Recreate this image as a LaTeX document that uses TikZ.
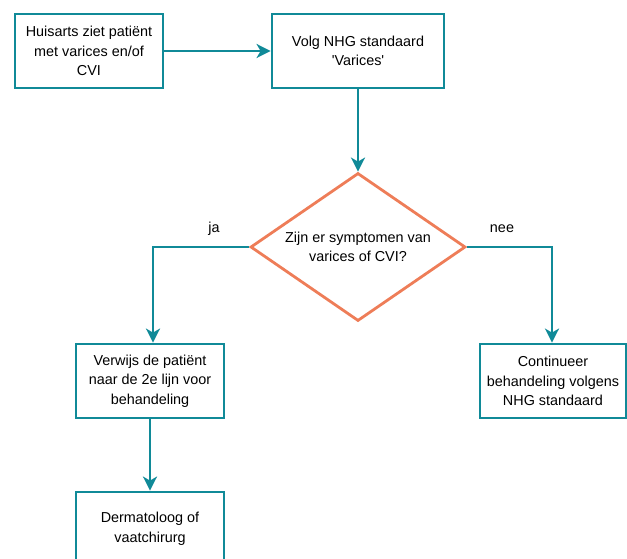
\documentclass[tikz,border=0pt]{standalone}
\usepackage{fontspec}
\setmainfont{Liberation Sans}
\usetikzlibrary{shapes.geometric,arrows.meta}
\definecolor{teal}{RGB}{16,138,152}
\definecolor{koraal}{RGB}{238,125,88}
\begin{document}
\begin{tikzpicture}[x=1pt, y=-1pt, line width=2.8pt,
    font=\fontsize{14.4}{19.5}\selectfont,
    box/.style={draw=teal, line width=2.8pt, align=center, minimum width=148pt, minimum height=74pt, inner sep=0pt},
    keuze/.style={draw=koraal, shape=diamond, aspect=1.45, align=center, minimum width=215pt, minimum height=148pt, inner sep=0pt},
    pijl/.style={draw=teal, -{Stealth[length=14pt,width=14pt,inset=4pt]}}]
    \useasboundingbox (0,0) rectangle (627,559);
    \clip (0,0) rectangle (627,559);
         %nodes
         \node[box] at (89,51) (huisarts) {Huisarts ziet patiënt\\met varices en/of\\CVI};
         \node[box, minimum width=172pt] at (358,51) (nhg) {Volg NHG standaard\\\textquotesingle Varices\textquotesingle};
         \node[keuze] at (358,247) (symptomen) {Zijn er symptomen van\\varices of CVI?};
         \node[box] at (150,381) (verwijs) {Verwijs de patiënt\\naar de 2e lijn voor\\behandeling};
         \node[box, minimum width=146pt] at (553,381) (continueer) {Continueer\\behandeling volgens\\NHG standaard};
         \node[box] at (150,529) (dermatoloog) {Dermatoloog of\\vaatchirurg};
         %labels
         \node at (214,229) (ja) {ja};
         \node at (502,229) (nee) {nee};
         \draw[pijl] (huisarts.east) -- (nhg.west);
         \draw[pijl] (nhg.south) -- (symptomen.north);
         \draw[pijl] (symptomen.west) -| ([xshift=3pt]verwijs.north);
         \draw[pijl] (symptomen.east) -| ([xshift=-1pt]continueer.north);
         \draw[pijl] (verwijs.south) -- (dermatoloog.north);
    \end{tikzpicture}
\end{document}
